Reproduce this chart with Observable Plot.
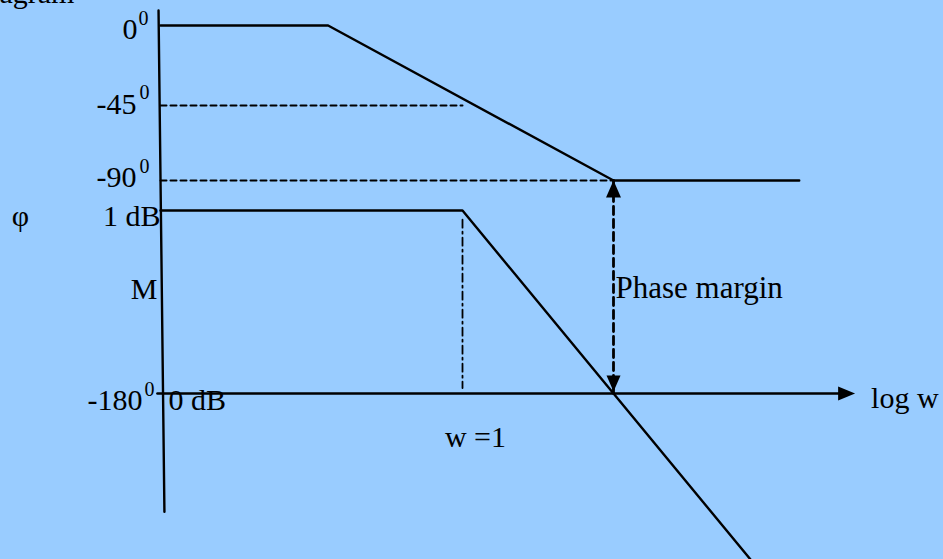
<!DOCTYPE html>
<html>
<head>
<meta charset="utf-8">
<script src="https://cdn.jsdelivr.net/npm/d3@7"></script>
<script src="https://cdn.jsdelivr.net/npm/@observablehq/plot@0.6"></script>
<style>
  html, body { margin: 0; padding: 0; background: #99ccff; overflow: hidden; }
</style>
</head>
<body>
<div id="chart"></div>
<script>
// ---- Data (schematic Bode diagram) ----
// Phase asymptote: log10(w) vs phase (degrees)
const phaseLogW = [-2, -0.89, 1, 2.23];
const phaseDeg  = [0, 0, -90, -90];
// Magnitude asymptote: log10(w) vs magnitude (dB)
const magLogW = [-2, 0, 2];
const magDb   = [1, 1, -1];
// Phase tick levels and labels (superscript 0 = degree)
const phaseTicks = [0, -45, -90, -180];
const phaseTickLabels = ["0", "-45", "-90", "-180"];
// Magnitude tick labels
const magTicks = [1, 0];
const magTickLabels = ["1 dB", "0 dB"];
// Special frequencies (log10 w)
const unityLogW = 0;       // w = 1
const crossoverLogW = 1;   // gain crossover, where phase margin is read
const axisStartLogW = -2;  // vertical axis position
const axisEndLogW = 2.6;   // tip of the log w arrow
// Vertical axis extent (degrees on shared axis)
const vAxisTopDeg = 8.4;
const vAxisBottomDeg = -230;

// Shared vertical axis: magnitude drawn with 0 dB on the -180° line
const dbToDeg = db => -180 + db * 77.3;

const phaseData = phaseLogW.map((x, i) => ({x, y: phaseDeg[i]}));
const magData = magLogW.map((x, i) => ({x, y: dbToDeg(magDb[i])}));

const black = "#000";
const font = "'Liberation Serif', 'Times New Roman', Times, serif";

const triRight = {draw(c) { c.moveTo(0, 0); c.lineTo(-17, -7); c.lineTo(-17, 7); c.closePath(); }};
const triUp    = {draw(c) { c.moveTo(0, 0); c.lineTo(-7.5, 17); c.lineTo(7.5, 17); c.closePath(); }};
const triDown  = {draw(c) { c.moveTo(0, 0); c.lineTo(-7, -16); c.lineTo(7, -16); c.closePath(); }};

// label layout (offsets in px)
const phaseLabelLayout = [
  {dx: -23, dy: 13, sdx: -22, sdy: -1},
  {dx: -24, dy: 8,  sdx: -21, sdy: -7},
  {dx: -24, dy: 6,  sdx: -21, sdy: -8},
  {dx: -18, dy: 16, sdx: -16, sdy: 2}
];

const marks = [];
// phase tick labels with superscript "0"
phaseTicks.forEach((t, i) => {
  const L = phaseLabelLayout[i];
  marks.push(Plot.text([t], {x: () => axisStartLogW, y: d => d, text: () => phaseTickLabels[i],
    textAnchor: "end", lineAnchor: "bottom", dx: L.dx, dy: L.dy, fontSize: 30, fill: black}));
  marks.push(Plot.text([t], {x: () => axisStartLogW, y: d => d, text: () => "0",
    textAnchor: "start", lineAnchor: "bottom", dx: L.sdx, dy: L.sdy, fontSize: 20, fill: black}));
});

// dashed reference lines at -45 and -90
marks.push(Plot.line([{x: axisStartLogW, y: -45}, {x: unityLogW, y: -45}],
  {x: "x", y: "y", stroke: black, strokeWidth: 2, strokeDasharray: "6,4"}));
marks.push(Plot.line([{x: axisStartLogW, y: -90}, {x: crossoverLogW, y: -90}],
  {x: "x", y: "y", stroke: black, strokeWidth: 2, strokeDasharray: "6,4"}));

// dash-dot line at w = 1
marks.push(Plot.line([{x: unityLogW, y: dbToDeg(0.95)}, {x: unityLogW, y: dbToDeg(0.03)}],
  {x: "x", y: "y", stroke: black, strokeWidth: 1.8, strokeDasharray: "8,4,2,4"}));

// phase asymptote
marks.push(Plot.line(phaseData, {x: "x", y: "y", stroke: black, strokeWidth: 2.4}));
// magnitude asymptote
marks.push(Plot.line(magData, {x: "x", y: "y", stroke: black, strokeWidth: 2.4}));

// vertical axis
marks.push(Plot.line([{x: -2.013, y: vAxisTopDeg}, {x: -1.974, y: vAxisBottomDeg}],
  {x: "x", y: "y", stroke: black, strokeWidth: 2.4}));
// horizontal (log w) axis with arrow
marks.push(Plot.line([{x: -2.02, y: dbToDeg(0)}, {x: axisEndLogW - 0.1, y: dbToDeg(0)}],
  {x: "x", y: "y", stroke: black, strokeWidth: 2.6}));
marks.push(Plot.dot([axisEndLogW], {x: d => d, y: () => dbToDeg(0), symbol: triRight, fill: black, stroke: "none"}));

// phase margin double arrow
marks.push(Plot.line([{x: crossoverLogW, y: -90}, {x: crossoverLogW, y: -180}],
  {x: "x", y: "y", stroke: black, strokeWidth: 2.8, strokeDasharray: "8,5"}));
marks.push(Plot.dot([-90], {x: () => crossoverLogW, y: d => d, symbol: triUp, fill: black, stroke: "none"}));
marks.push(Plot.dot([-180], {x: () => crossoverLogW, y: d => d, dy: -2, symbol: triDown, fill: black, stroke: "none"}));

// magnitude labels
marks.push(Plot.text([magTicks[0]], {x: () => axisStartLogW, y: d => dbToDeg(d), text: () => magTickLabels[0],
  textAnchor: "end", lineAnchor: "bottom", dx: 0, dy: 15, fontSize: 30, fill: black}));
marks.push(Plot.text([magTicks[1]], {x: () => axisStartLogW, y: d => dbToDeg(d), text: () => magTickLabels[1],
  textAnchor: "start", lineAnchor: "bottom", dx: 8, dy: 16, fontSize: 30, fill: black}));

// axis titles and annotations
marks.push(Plot.text(["M"], {x: () => axisStartLogW, y: () => dbToDeg(0.5), text: d => d,
  textAnchor: "end", lineAnchor: "bottom", dx: -3, dy: -3, fontSize: 30, fill: black}));
marks.push(Plot.text(["φ"], {x: () => axisStartLogW, y: () => dbToDeg(1), text: d => d,
  textAnchor: "middle", lineAnchor: "bottom", dx: -140, dy: 15, fontSize: 30, fill: black}));
marks.push(Plot.text(["w =1"], {x: () => unityLogW, y: () => dbToDeg(0), text: d => d,
  textAnchor: "middle", lineAnchor: "bottom", dx: 13, dy: 53, fontSize: 30, fill: black}));
marks.push(Plot.text(["Phase margin"], {x: () => crossoverLogW, y: () => -135, text: d => d,
  textAnchor: "start", lineAnchor: "bottom", dx: 2, dy: 11, fontSize: 31, fill: black}));
marks.push(Plot.text(["log w"], {x: () => axisEndLogW, y: () => dbToDeg(0), text: d => d,
  textAnchor: "start", lineAnchor: "bottom", dx: 16, dy: 14, fontSize: 30, fill: black}));
marks.push(Plot.text(["agram"], {frameAnchor: "top-left", text: d => d,
  textAnchor: "start", lineAnchor: "bottom", dx: -1, dy: 2, fontSize: 30, fill: black}));

const chart = Plot.plot({
  width: 943,
  height: 559,
  margin: 0,
  x: {type: "linear", domain: [-2, 1], range: [160, 613], axis: null},
  y: {type: "linear", domain: [0, -45, -90, -180], range: [25, 105, 180, 393], axis: null},
  style: {background: "#99ccff", fontFamily: font, color: black, overflow: "hidden"},
  marks
});
document.getElementById("chart").appendChild(chart);
</script>
</body>
</html>
